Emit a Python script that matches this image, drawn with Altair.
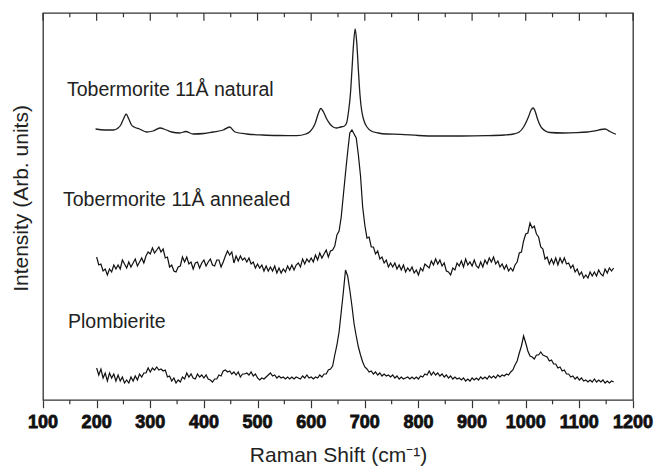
import altair as alt
import pandas as pd

FONT = "Liberation Sans"

# --- Tobermorite 11Å natural (smooth spectrum, read point by point) ---
nat_x = [198, 215, 231, 240, 245, 250, 255, 260, 265, 270, 280, 293, 305, 318, 330, 340,
         355, 366, 380, 400, 417, 436, 448, 458, 480, 510, 540, 573, 590, 598, 607, 613,
         618, 623, 629, 635, 641, 647, 655, 662, 666, 670, 673, 676, 679, 682, 685, 688,
         691, 694, 698, 704, 712, 725, 741, 766, 800, 834, 880, 927, 960, 977, 988, 996,
         1005, 1010, 1014, 1018, 1022, 1030, 1045, 1070, 1095, 1115, 1132, 1140, 1148,
         1157, 1168]
nat_v = [271, 270, 270, 272, 275, 281, 286, 281, 275, 273, 271, 268, 269, 272, 270, 268,
         267, 268.5, 266, 266.5, 268, 270, 273, 268, 266, 265, 264.5, 264.3, 266, 268.5, 276, 286,
         291.5, 288, 281, 276, 273, 272, 273, 274, 277, 290, 305, 330, 356, 371, 357, 330,
         305, 290, 280, 273, 269, 267, 266, 265.7, 264.5, 264, 264, 264.3, 265, 266, 268, 273,
         283, 290, 292, 288, 281, 272, 267.5, 267, 267.3, 268, 269.3, 270.5, 271,
         268.5, 265.7]

# --- noisy spectra sampled every 4 cm-1 from 200 to 1164 ---
noisy_x = list(range(200, 1168, 4))
ann_v = [
    143, 135, 136, 129, 131, 125, 131, 128, 135, 131,
    135, 131, 140, 136, 132, 138, 133, 137, 141, 134,
    138, 142, 137, 144, 148, 146, 152, 147, 150, 153,
    148, 151, 142, 143, 133, 135, 129, 128, 133, 134,
    143, 138, 143, 136, 138, 131, 137, 138, 132, 137,
    140, 134, 138, 141, 135, 134, 140, 140, 133, 138,
    144, 149, 145, 148, 137, 144, 139, 144, 140, 142,
    138, 142, 136, 138, 132, 136, 132, 135, 129, 134,
    129, 133, 129, 134, 127, 132, 127, 131, 128, 134,
    130, 135, 130, 135, 137, 133, 141, 136, 141, 138,
    142, 138, 145, 140, 147, 142, 146, 150, 143, 149,
    150, 154, 165, 169, 183, 205, 227, 248, 267, 270,
    266, 262, 245, 224, 193, 175, 162, 163, 153, 153,
    146, 149, 141, 143, 137, 140, 133, 137, 133, 137,
    131, 135, 130, 135, 128, 132, 129, 133, 127, 130,
    125, 132, 129, 136, 134, 132, 139, 135, 141, 136,
    140, 134, 137, 129, 128, 125, 132, 130, 137, 134,
    139, 133, 141, 135, 138, 134, 140, 134, 132, 138,
    133, 140, 136, 142, 138, 143, 136, 139, 133, 136,
    131, 135, 129, 132, 129, 135, 138, 147, 148, 159,
    166, 167, 177, 172, 174, 166, 163, 153, 151, 141,
    143, 136, 141, 136, 142, 135, 142, 137, 142, 136,
    137, 132, 135, 128, 131, 125, 128, 122, 125, 122,
    128, 124, 128, 124, 130, 126, 124, 131, 127, 132,
    129, 132,
]
plo_v = [
    32, 25, 31, 22, 27, 19, 27, 22, 26, 19,
    25, 19, 23, 17, 20, 17, 23, 19, 24, 20,
    26, 23, 27, 27, 32, 28, 32, 30, 33, 30,
    31, 29, 30, 23, 24, 19, 22, 17, 20, 18,
    23, 21, 27, 23, 26, 22, 21, 26, 23, 25,
    22, 25, 21, 20, 18, 21, 21, 25, 24, 29,
    30, 28, 29, 26, 28, 25, 28, 23, 26, 26,
    27, 25, 28, 24, 26, 22, 20, 22, 21, 23,
    25, 27, 24, 25, 22, 24, 22, 23, 21, 23,
    21, 23, 21, 23, 22, 21, 24, 22, 25, 22,
    23, 21, 23, 22, 25, 23, 26, 26, 30, 31,
    34, 45, 55, 68, 88, 108, 130, 124, 110, 94,
    76, 64, 53, 45, 38, 33, 31, 28, 29, 26,
    28, 25, 27, 24, 26, 24, 25, 23, 25, 22,
    24, 21, 23, 21, 22, 23, 21, 23, 21, 23,
    21, 24, 23, 26, 25, 29, 25, 28, 25, 27,
    24, 26, 23, 25, 22, 24, 21, 23, 21, 22,
    20, 22, 19, 21, 19, 22, 20, 22, 20, 23,
    21, 23, 21, 24, 22, 24, 22, 25, 23, 25,
    24, 26, 25, 28, 30, 35, 39, 47, 54, 64,
    57, 49, 44, 43, 41, 45, 45, 48, 45, 44,
    43, 39, 40, 36, 36, 32, 33, 29, 30, 26,
    26, 23, 24, 21, 23, 20, 22, 19, 20, 18,
    20, 18, 21, 18, 20, 18, 20, 17, 19, 17,
    19, 18,
]
assert len(ann_v) == len(noisy_x) == len(plo_v), (len(ann_v), len(noisy_x), len(plo_v))
assert len(nat_x) == len(nat_v)

label_text = ["Tobermorite 11Å natural", "Tobermorite 11Å annealed", "Plombierite"]
label_x = [144.7, 137.3, 146.6]
label_y = [304.3, 194.3, 72.3]

major_ticks = list(range(100, 1300, 100))
tick_labels = [str(t) for t in major_ticks]
minor_ticks = list(range(150, 1200, 100))

X_DOMAIN = [100, 1200]
Y_DOMAIN = [0, 387]

nat_df = pd.DataFrame({"x": nat_x, "v": nat_v})
noisy_df = pd.DataFrame({
    "x": noisy_x * 2,
    "v": ann_v + plo_v,
    "series": ["annealed"] * len(noisy_x) + ["plombierite"] * len(noisy_x),
})
lab_df = pd.DataFrame({"x": label_x, "v": label_y, "t": label_text})
maj_df = pd.DataFrame({"x": major_ticks, "t": tick_labels})
min_df = pd.DataFrame({"x": minor_ticks})

x_axis = alt.Axis(
    values=major_ticks, labels=False, title="Raman Shift (cm⁻¹)", grid=False, domain=False,
    tickSize=7.7, tickColor="#333", tickWidth=1.2,
    titleFont=FONT, titleFontSize=21, titleFontWeight="normal", titleColor="#222",
    titleBaseline="alphabetic", titleX=295, titleY=61.7, titleAlign="center",
)
y_axis = alt.Axis(
    labels=False, ticks=False, domain=False, grid=False,
    title="Intensity (Arb. units)", titleFont=FONT, titleFontSize=21,
    titleFontWeight="normal", titleColor="#222", titleAngle=270,
    titleBaseline="alphabetic", titleAlign="center", titleX=-16, titleY=185,
)

X = lambda: alt.X("x:Q", scale=alt.Scale(domain=X_DOMAIN, nice=False, zero=False), axis=x_axis)
Y = lambda: alt.Y("v:Q", scale=alt.Scale(domain=Y_DOMAIN, nice=False, zero=False), axis=y_axis)

nat = alt.Chart(nat_df).mark_line(color="#1e1e1e", strokeWidth=1.3, interpolate="monotone").encode(
    x=X(), y=Y())
noisy = alt.Chart(noisy_df).mark_line(color="#111", strokeWidth=1.2).encode(
    x=X(), y=Y(), detail="series:N")
labels = alt.Chart(lab_df).mark_text(
    align="left", baseline="alphabetic", font=FONT, fontSize=19.5, color="#222"
).encode(x=X(), y=Y(), text="t:N")
tick_text = alt.Chart(maj_df).mark_text(
    align="center", baseline="alphabetic", font=FONT, fontSize=18, fontWeight="bold",
    color="#111", stroke="#111", strokeWidth=0.8
).encode(x=X(), y=alt.value(415), text="t:N")
top_major = alt.Chart(maj_df).mark_rule(color="#333", strokeWidth=1.2).encode(
    x=X(), y=alt.value(0), y2=alt.value(7.7))
top_minor = alt.Chart(min_df).mark_rule(color="#333", strokeWidth=1.2).encode(
    x=X(), y=alt.value(0), y2=alt.value(4.3))
bot_minor = alt.Chart(min_df).mark_rule(color="#333", strokeWidth=1.2).encode(
    x=X(), y=alt.value(387), y2=alt.value(391.3))

chart = alt.layer(nat, noisy, labels, tick_text, top_major, top_minor, bot_minor).properties(
    width=590, height=387,
    padding={"left": 43, "top": 13, "right": 25, "bottom": 67},
    autosize=alt.AutoSizeParams(type="none"),
    background="white",
).configure_view(stroke="#333", strokeWidth=1.3)

chart.save("out.html", embed_options={"renderer": "svg", "actions": False})
